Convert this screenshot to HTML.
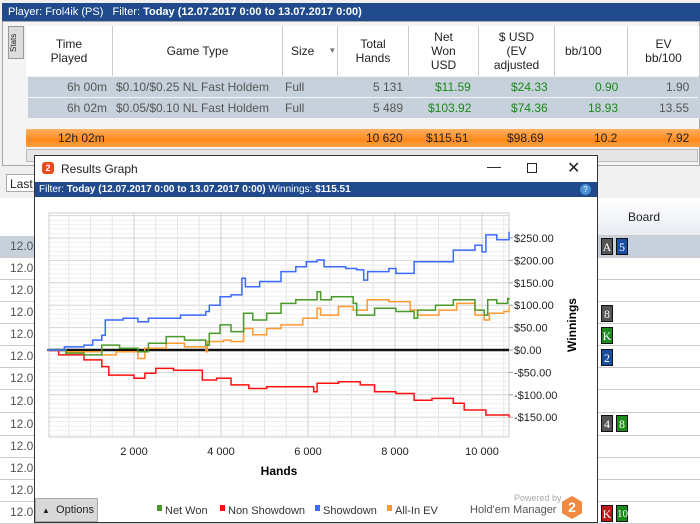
<!DOCTYPE html>
<html><head><meta charset="utf-8">
<style>
*{box-sizing:border-box;margin:0;padding:0}
body{width:700px;height:523px;overflow:hidden;background:#f0f0f0;font-family:"Liberation Sans",sans-serif;font-size:12px;color:#222;position:relative}
.abs{position:absolute}
.hdr{background:#1f4a8c;color:#fff;font-size:11px}
.th{position:absolute;top:26px;height:50px;display:flex;align-items:center;justify-content:center;text-align:center;border-right:1px solid #ccc;font-size:12px;line-height:14px;color:#222}
.cell{position:absolute;font-size:12px;white-space:nowrap}
.card{position:absolute;width:12px;height:17px;color:#fff;font-size:12px;font-family:"Liberation Serif",serif;text-align:center;line-height:17px;border:1px solid #111}
.rowl{position:absolute;left:0;width:34px;height:1px;background:#ccc}
</style></head><body>
<div class="abs hdr" style="left:2px;top:3px;width:698px;height:18px;line-height:18px;padding-left:6px">Player: <b style="font-weight:normal">Frol4ik (PS)</b>&nbsp;&nbsp; Filter: <b>Today (12.07.2017 0:00 to 13.07.2017 0:00)</b></div>
<div class="abs" style="left:2px;top:21px;width:698px;height:145px;background:#f4f4f4;border:1px solid #aaa"></div>
<div class="abs" style="left:8px;top:26px;width:16px;height:33px;background:#ddd;border:1px solid #999;font-size:8px;writing-mode:vertical-rl;transform:rotate(180deg);text-align:center">Stats</div>
<div class="abs" style="left:26px;top:26px;width:674px;height:50px;background:#fff"></div>
<div class="th" style="left:26px;width:87px">Time<br>Played</div>
<div class="th" style="left:113px;width:170px">Game Type</div>
<div class="th" style="left:283px;width:55px;justify-content:flex-start;padding-left:8px">Size <span style="font-size:8px;color:#777;margin-left:14px">▼</span></div>
<div class="th" style="left:338px;width:71px">Total<br>Hands</div>
<div class="th" style="left:409px;width:70px">Net<br>Won<br>USD</div>
<div class="th" style="left:479px;width:76px">$ USD<br>(EV<br>adjusted</div>
<div class="th" style="left:555px;width:73px;justify-content:flex-start;padding-left:10px">bb/100</div>
<div class="th" style="left:628px;width:72px">EV<br>bb/100</div>
<div class="abs" style="left:28px;top:77px;width:672px;height:20px;background:#c6d1dc"></div>
<div class="abs" style="left:28px;top:98px;width:672px;height:20px;background:#c6d1dc"></div>
<div class="abs" style="left:26px;top:129px;width:674px;height:18px;background:linear-gradient(#ffb060,#ff8a1c 60%,#ffa040)"></div>
<div class="cell" style="left:67px;top:80px;color:#555">6h 00m</div><div class="cell" style="left:116px;top:80px;color:#555">$0.10/$0.25 NL Fast Holdem</div><div class="cell" style="left:285px;top:80px;color:#555">Full</div><div class="cell" style="left:373px;top:80px;color:#555">5 131</div><div class="cell" style="left:435px;top:80px;color:#1a8a1a">$11.59</div><div class="cell" style="left:511px;top:80px;color:#1a8a1a">$24.33</div><div class="cell" style="left:595px;top:80px;color:#1a8a1a">0.90</div><div class="cell" style="left:666px;top:80px;color:#555">1.90</div>
<div class="cell" style="left:67px;top:101px;color:#555">6h 02m</div><div class="cell" style="left:116px;top:101px;color:#555">$0.05/$0.10 NL Fast Holdem</div><div class="cell" style="left:285px;top:101px;color:#555">Full</div><div class="cell" style="left:373px;top:101px;color:#555">5 489</div><div class="cell" style="left:428px;top:101px;color:#1a8a1a">$103.92</div><div class="cell" style="left:511px;top:101px;color:#1a8a1a">$74.36</div><div class="cell" style="left:588px;top:101px;color:#1a8a1a">18.93</div><div class="cell" style="left:659px;top:101px;color:#555">13.55</div>
<div class="cell" style="left:58px;top:131px">12h 02m</div><div class="cell" style="left:366px;top:131px">10 620</div><div class="cell" style="left:426px;top:131px">$115.51</div><div class="cell" style="left:507px;top:131px">$98.69</div><div class="cell" style="left:594px;top:131px">10.2</div><div class="cell" style="left:666px;top:131px">7.92</div>
<div class="abs" style="left:26px;top:149px;width:672px;height:13px;background:#e6e6e6;border:1px solid #bbb"></div>
<div class="abs" style="left:6px;top:174px;width:40px;height:18px;background:#fff;border:1px solid #aaa;padding:2px 3px">Last</div>
<div class="abs" style="left:0;top:198px;width:700px;height:325px;background:#fff"></div>
<div class="abs" style="left:0;top:236px;width:34px;height:22px;background:#c6d1dc"></div>
<div class="abs" style="left:597px;top:236px;width:103px;height:22px;background:#c6d1dc"></div>
<div class="abs" style="left:597px;top:198px;width:103px;height:38px;background:linear-gradient(#fff,#e8ecf2);border-bottom:1px solid #ccc"></div>
<div class="cell" style="left:628px;top:210px">Board</div>
<div id="hands"></div>
<div class="card" style="left:601px;top:238px;background:#555">A</div><div class="card" style="left:616px;top:238px;background:#1a4fa0">5</div>
<div class="card" style="left:601px;top:305px;background:#555">8</div>
<div class="card" style="left:601px;top:327px;background:#1e8a1e">K</div>
<div class="card" style="left:601px;top:349px;background:#1a4fa0">2</div>
<div class="card" style="left:601px;top:415px;background:#555">4</div><div class="card" style="left:616px;top:415px;background:#1e8a1e">8</div>
<div class="card" style="left:601px;top:505px;background:#c01818">K</div><div class="card" style="left:616px;top:505px;background:#1e8a1e;font-size:11px">10</div>

<div class="abs" style="left:34px;top:155px;width:564px;height:368px;background:#fff;border:1px solid #333"></div>
<div class="abs" style="left:42px;top:162px;width:12px;height:12px;background:#e84a1c;border-radius:3px;color:#fff;font-size:9px;font-weight:bold;text-align:center;line-height:12px">2</div>
<div class="cell" style="left:61px;top:162px">Results Graph</div>
<div class="cell" style="left:487px;top:158px;font-size:14px">—</div>
<div class="abs" style="left:527px;top:163px;width:10px;height:10px;border:1px solid #222"></div>
<div class="cell" style="left:567px;top:158px;font-size:16px">✕</div>
<div class="abs hdr" style="left:35px;top:182px;width:562px;height:15px;line-height:15px;padding-left:4px;font-size:10px">Filter: <b>Today (12.07.2017 0:00 to 13.07.2017 0:00)</b> Winnings: <b>$115.51</b><span style="position:absolute;right:6px;top:2px;width:11px;height:11px;border-radius:50%;background:#4a90d8;font-size:8px;text-align:center;line-height:11px">?</span></div>
<svg id="chart" class="abs" style="left:0;top:0" width="700" height="523"></svg>
<div class="abs" style="left:35px;top:498px;width:63px;height:24px;background:#d8d8d8;border:1px solid #aaa;font-size:11px;line-height:22px;padding-left:6px"><span style="font-size:8px">▲</span>&nbsp; Options</div>
<div class="cell" style="left:514px;top:493px;font-size:9px;color:#aaa">Powered by</div>
<div class="cell" style="left:470px;top:504px;font-size:11px;color:#555">Hold'em Manager</div>
<div class="abs" style="left:562px;top:496px;width:20px;height:23px;background:#f08a40;clip-path:polygon(50% 0,100% 25%,100% 75%,50% 100%,0 75%,0 25%);color:#fff;font-weight:bold;text-align:center;line-height:23px;font-size:14px">2</div>
<script>
const xTicks=[2000,4000,6000,8000,10000];
const xTickLabels=["2 000","4 000","6 000","8 000","10 000"];
const yTicks=[250,200,150,100,50,0,-50,-100,-150];
const yTickLabels=["$250.00","$200.00","$150.00","$100.00","$50.00","$0.00","-$50.00","-$100.00","-$150.00"];
const showdownH=[0,400,850,1050,1260,1340,1750,2090,2330,3070,3650,3730,3980,4230,4480,4560,4890,5380,5720,5960,6210,6370,6870,7120,7280,7370,7860,8020,8440,9340,9840,10000,10090,10340,10620];
const showdownV=[0,7,11,22,33,67,71,63,71,78,86,100,119,123,160,141,153,175,186,197,201,186,182,179,156,175,182,171,197,223,234,219,257,246,264];
const netWonH=[0,430,850,1260,1670,2090,2330,2740,3160,3650,3730,3980,4230,4520,4730,5050,5380,5720,6210,6290,6540,7040,7120,7530,8020,8440,8520,8930,9340,9840,10050,10130,10340,10590,10620];
const netWonV=[1,-7,-11,11,4,-4,15,30,22,11,37,56,41,82,67,82,104,112,130,112,119,104,78,93,86,71,89,100,112,89,78,112,104,115,112];
const allInH=[0,430,1260,1590,2090,2250,2740,3160,3650,3690,4060,4230,4520,4730,5050,5380,5880,6210,6290,6700,7040,7360,7860,8350,8520,9010,9420,9840,10050,10170,10500,10620];
const allInV=[0,-4,-11,-4,-19,4,15,7,-4,19,22,19,48,34,48,56,71,93,78,97,89,112,108,89,78,89,104,78,67,82,86,97];
const nonSdH=[0,270,850,1260,1420,2000,2250,2500,2910,3570,3900,4230,4640,5050,5630,6130,6210,6700,7200,7530,8020,8440,8850,9340,9590,10090,10620];
const nonSdV=[-1,-11,-22,-37,-56,-63,-52,-41,-45,-67,-63,-78,-86,-82,-82,-93,-74,-71,-78,-93,-97,-112,-108,-119,-134,-145,-150];
const X0=47,XK=0.0435,Y0=350,YK=0.448,PL=49,PR=509,PT=213,PB=437;
const xs=h=>X0+h*XK, ys=v=>Y0-v*YK;
const svg=document.getElementById('chart');
const NS='http://www.w3.org/2000/svg';
function mk(t,a){const e=document.createElementNS(NS,t);for(const k in a)e.setAttribute(k,a[k]);svg.appendChild(e);return e;}
for(let v=-190;v<=300;v+=10){const y=ys(v);if(y<PT||y>PB)continue;const l=mk('line',{x1:PL,x2:PR,y1:y,y2:y,stroke:v%50===0?'#d4d4d4':'#efefef','stroke-width':1});

}
for(let h=500;h<=10500;h+=500){const x=xs(h);const l=mk('line',{x1:x,x2:x,y1:PT,y2:PB,stroke:h%2000===0?'#d0d0d0':'#e6e6e6','stroke-width':1});

}
mk('rect',{x:PL,y:PT,width:PR-PL,height:PB-PT,fill:'none',stroke:'#ccc'});
const z=mk('line',{x1:PL,x2:PR,y1:ys(0),y2:ys(0),stroke:'#111','stroke-width':2.5});


yTicks.forEach((v,i)=>{const t=mk('text',{x:514,y:ys(v)+4,'font-size':11,fill:'#222','font-family':'Liberation Sans'});t.textContent=yTickLabels[i];


mk('line',{x1:PR,x2:PR+4,y1:ys(v),y2:ys(v),stroke:'#999'});});
xTicks.forEach((h,i)=>{const t=mk('text',{x:xs(h),y:455,'font-size':11,fill:'#222','text-anchor':'middle','font-family':'Liberation Sans'});t.textContent=xTickLabels[i];

});
const xt=mk('text',{x:279,y:475,'font-size':12,'font-weight':'bold','text-anchor':'middle','font-family':'Liberation Sans'});xt.textContent='Hands';


const yt=mk('text',{x:0,y:0,'font-size':12,'font-weight':'bold','text-anchor':'middle','font-family':'Liberation Sans',transform:'translate(576,325) rotate(-90)'});yt.textContent='Winnings';


function series(H,V,c,name){let d='';H.forEach((h,i)=>{if(i){d+=' H'+xs(h).toFixed(1)+' V'+ys(V[i]).toFixed(1);}else d='M'+xs(h).toFixed(1)+' '+ys(V[i]).toFixed(1);});
const p=mk('path',{d:d,fill:'none',stroke:c,'stroke-width':1.5});

}
series(nonSdH,nonSdV,'#ff1010','non-showdown-line');
series(allInH,allInV,'#ff9a30','all-in-ev-line');
series(netWonH,netWonV,'#4a9a2a','net-won-line');
series(showdownH,showdownV,'#3a6aff','showdown-line');
const leg=[['Net Won','#4a9a2a',157],['Non Showdown','#ff1010',220],['Showdown','#3a6aff',315],['All-In EV','#ff9a30',387]];
leg.forEach(l=>{const r=mk('rect',{x:l[2],y:505,width:5,height:6,fill:l[1]});


const t=mk('text',{x:l[2]+8,y:514,'font-size':11,fill:'#333','font-family':'Liberation Sans'});t.textContent=l[0];

});
const rowsY=[246,268,290,312,334,356,378,401,424,446,468,490,512];
const hc=document.getElementById('hands');
rowsY.forEach(y=>{const d=document.createElement('div');d.className='cell';d.style.left='10px';d.style.top=(y-7)+'px';d.style.color='#555';d.textContent='12.0';


hc.appendChild(d);
const l=document.createElement('div');l.className='rowl';l.style.top=(y+11)+'px';l.style.width='700px';hc.appendChild(l);});
</script>
</body></html>
